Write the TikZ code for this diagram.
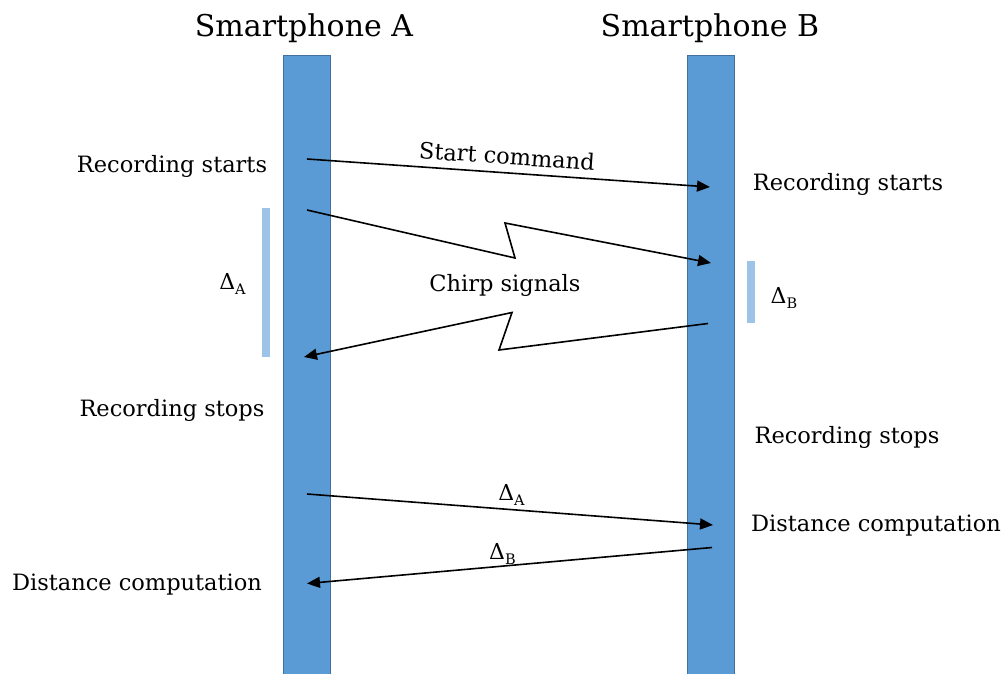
\documentclass[tikz,border=0pt]{standalone}
\usepackage{fontspec}
\setmainfont{DejaVu Serif}
\usetikzlibrary{arrows.meta}
\definecolor{barfill}{HTML}{5B9BD5}
\definecolor{barline}{HTML}{41719C}
\definecolor{spanfill}{HTML}{9DC3E6}
% interval symbol with a lowered subscript letter
\newcommand\dlt[1]{Δ\raisebox{-5pt}{\fontsize{14.5}{15}\selectfont #1}}
\tikzset{
  lifeline/.style={rectangle, fill=barfill, draw=barline, line width=0.8pt, minimum width=47pt, minimum height=620pt, inner sep=0pt},
  span/.style={rectangle, fill=spanfill, minimum width=8.5pt, inner sep=0pt},
  msg/.style={line width=1.6pt, -{Triangle[length=13pt,width=11pt]}},
  title/.style={font=\fontsize{30}{33}\selectfont, inner sep=0pt},
  lbl/.style={font=\fontsize{22.5}{26}\selectfont, inner sep=0pt},
  delta/.style={font=\fontsize{22}{24}\selectfont, inner sep=0pt},
}
\begin{document}
\begin{tikzpicture}[x=1pt,y=-1pt]
\useasboundingbox (0,0) rectangle (1005,674);
% lifelines
\node[lifeline] (barA) at (306.5,365) {};
\node[lifeline] (barB) at (710.5,365) {};
\node[title] (tA) at (304,28) {Smartphone A};
\node[title] (tB) at (710,28) {Smartphone B};
% measured intervals
\node[span, minimum height=149pt] (spA) at (266,282.5) {};
\node[span, minimum height=62pt] (spB) at (751,291.5) {};
\node[delta] (dA) at (232.5,284) {\dlt{A}};
\node[delta] (dB) at (784,298) {\dlt{B}};
% message end points
\coordinate (s1) at (307,159);
\coordinate (e1) at (710,187);
\coordinate (s2) at (307,210);
\coordinate (k2a) at (515,258);
\coordinate (k2b) at (505,223);
\coordinate (e2) at (711,263);
\coordinate (s3) at (708,323.5);
\coordinate (k3a) at (499,350);
\coordinate (k3b) at (512,312.5);
\coordinate (e3) at (304,357);
\coordinate (s4) at (307,494);
\coordinate (e4) at (713,525);
\coordinate (s5) at (712,547.5);
\coordinate (e5) at (307,583.5);
% messages
\draw[msg] (s1) -- (e1);
\draw[msg] (s2) -- (k2a) -- (k2b) -- (e2);
\draw[msg] (s3) -- (k3a) -- (k3b) -- (e3);
\draw[msg] (s4) -- (e4);
\draw[msg] (s5) -- (e5);
% labels
\node[lbl, rotate=-3.9] (cmd) at (507,156) {Start command};
\node[lbl] (chirp) at (505,285) {Chirp signals};
\node[delta] (mA) at (511.5,495) {\dlt{A}};
\node[delta] (mB) at (502.5,554) {\dlt{B}};
\node[lbl] (rsA) at (172,166) {Recording starts};
\node[lbl] (rsB) at (848,184) {Recording starts};
\node[lbl] (rpA) at (172,410) {Recording stops};
\node[lbl] (rpB) at (847,437) {Recording stops};
\node[lbl] (dcB) at (876,526) {Distance computation};
\node[lbl] (dcA) at (137,585) {Distance computation};
\end{tikzpicture}
\end{document}
